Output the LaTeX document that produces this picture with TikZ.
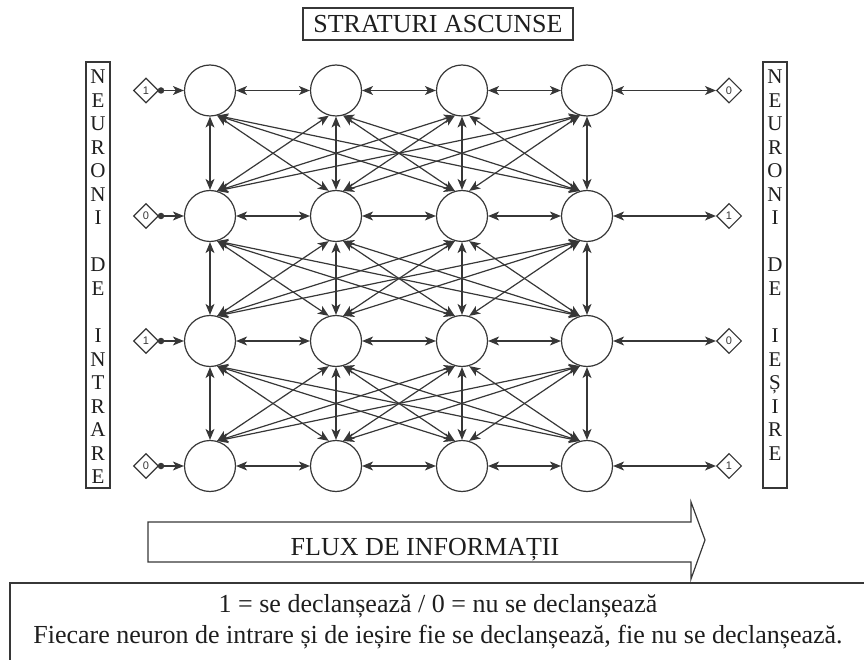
\documentclass[tikz,border=0pt]{standalone}
\usepackage{fontspec}
\setmainfont{Liberation Serif}
\newfontfamily\digitfont{Liberation Sans}
\usetikzlibrary{arrows.meta,shapes.geometric}
\definecolor{lc}{RGB}{55,55,55}
\definecolor{tc}{RGB}{30,30,30}
\begin{document}
\begin{tikzpicture}[x=1pt,y=-1pt,
  >={Stealth[length=11pt,width=9pt,inset=3pt]},
  ln/.style={draw=lc, line width=1.2pt},
  neuron/.style={circle, draw=lc, line width=1.2pt, minimum size=51pt, inner sep=0pt},
  io/.style={diamond, draw=lc, line width=1.1pt, minimum width=25pt, minimum height=25pt, inner sep=0pt, text=lc, font=\digitfont\fontsize{11}{11}\selectfont},
  dotn/.style={circle, fill=lc, minimum size=6.5pt, inner sep=0pt},
  frame/.style={draw=lc, line width=1.2pt},
  bigtxt/.style={text=tc, font=\fontsize{26}{30}\selectfont},
  vtxt/.style={text=tc, anchor=base, inner sep=0pt, font=\fontsize{21}{21}\selectfont}
]
\useasboundingbox (0,0) rectangle (864,660);

% title
\node[frame, bigtxt, minimum width=270pt, minimum height=32pt, inner sep=0pt] (title) at (438,24) {STRATURI ASCUNSE};

% neurons
\foreach \r/\y in {1/90.5,2/216,3/341,4/466}{
  \foreach \c/\x in {1/210,2/336,3/462,4/587}{
    \node[neuron] (n-\r-\c) at (\x,\y) {};
  }
}

% horizontal connections
\foreach \r in {1,2,3,4}{
  \foreach \c/\d in {1/2,2/3,3/4}{
    \draw[ln,<->] (n-\r-\c.east) -- (n-\r-\d.west);
  }
}

% inter-layer connections
\foreach \r/\s in {1/2,2/3,3/4}{
  \foreach \i in {1,2,3,4}{
    \foreach \j in {1,2,3,4}{
      \ifnum\i=\j
        \draw[ln,<->] (n-\r-\i.south) -- (n-\s-\j.north);
      \else\ifnum\i<\j
        \draw[ln,<->] (n-\r-\i.-74) -- (n-\s-\j.106);
      \else
        \draw[ln,<->] (n-\r-\i.254) -- (n-\s-\j.74);
      \fi\fi
    }
  }
}

% inputs and outputs
\foreach \r/\y/\a/\b in {1/90.5/1/0,2/216/0/1,3/341/1/0,4/466/0/1}{
  \node[io] (in-\r) at (146,\y) {\a};
  \node[dotn] (dot-\r) at (161,\y) {};
  \draw[ln,->] (dot-\r) -- (n-\r-1.west);
  \node[io] (out-\r) at (729,\y) {\b};
  \draw[ln,<->] (n-\r-4.east) -- (out-\r.west);
}

% vertical label boxes
\draw[frame] (86,62) rectangle (110,488);
\draw[frame] (763,62) rectangle (787,488);
\foreach \l/\k in {N/0,E/1,U/2,R/3,O/4,N/5,I/6,D/8,E/9,I/11,N/12,T/13,R/14,A/15,R/16,E/17}{
  \node[vtxt] (li-\k) at (98,{84+23.5*\k}) {\l};
}
\foreach \l/\k in {N/0,E/1,U/2,R/3,O/4,N/5,I/6,D/8,E/9,I/11,E/12,Ș/13,I/14,R/15,E/16}{
  \node[vtxt] (lo-\k) at (775,{84+23.5*\k}) {\l};
}

% information flow arrow
\draw[frame] (148,522) -- (691,522) -- (691,502) -- (705,540) -- (691,579) -- (691,562) -- (148,562) -- cycle;
\node[bigtxt, anchor=base] (flux) at (425,555) {FLUX DE INFORMAȚII};

% legend box
\draw[frame] (10,583) rectangle (880,700);
\node[bigtxt, anchor=base] (leg1) at (438,612) {1 = se declanșează / 0 = nu se declanșează};
\node[bigtxt, anchor=base] (leg2) at (438,643) {Fiecare neuron de intrare și de ieșire fie se declanșează, fie nu se declanșează.};
\end{tikzpicture}
\end{document}
